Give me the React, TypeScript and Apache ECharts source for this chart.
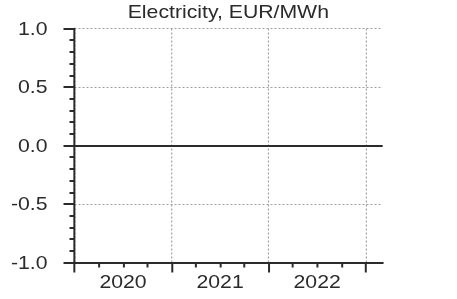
import React, { useEffect, useRef } from "react";
import * as echarts from "echarts";

const title = "Electricity, EUR/MWh";
const years = ["2020", "2021", "2022"];
const yearTicks = [0, 1, 2, 3];
const yearLabelPos = [0.5, 1.5, 2.5];
const xMax = 3.175;
const yMin = -1;
const yMax = 1;
const yStep = 0.5;
const zeroLine = [0];

const SX = 1.18; // horizontal stretch of the whole drawing
const X = (px: number) => px / SX;

export default function App() {
  const ref = useRef<HTMLDivElement>(null);
  useEffect(() => {
    document.body.style.margin = "0";
    const chart = echarts.init(ref.current!, undefined, { renderer: "svg" });
    const dark = "#2b2b2b";
    const grid = "#a0a0a0";
    const font = "Liberation Sans, Arial, sans-serif";
    chart.setOption({
      animation: false,
      title: {
        text: title,
        left: "center",
        top: -2,
        textStyle: { fontFamily: font, fontSize: 18, fontWeight: "normal", color: dark },
      },
      grid: { left: X(74.5), right: X(74), top: 28.5, bottom: 36.5, containLabel: false },
      xAxis: {
        type: "value",
        min: 0,
        max: xMax,
        interval: 1,
        axisLine: { show: true, onZero: false, lineStyle: { color: dark, width: 2 } },
        axisTick: { show: true, length: 10, lineStyle: { color: dark, width: 2 / SX }, customValues: yearTicks },
        minorTick: { show: true, splitNumber: 4, length: 5, lineStyle: { color: dark, width: 2 / SX } },
        splitLine: { show: true, lineStyle: { color: grid, type: [2, 2], width: 1.2 / SX } },
        axisLabel: {
          customValues: yearLabelPos,
          formatter: (v: number) => years[Math.floor(v)] ?? "",
          margin: 10,
          fontFamily: font,
          fontSize: 18,
          color: dark,
        },
      },
      yAxis: {
        type: "value",
        min: yMin,
        max: yMax,
        interval: yStep,
        axisLine: { show: true, lineStyle: { color: dark, width: 2 / SX } },
        axisTick: { show: true, length: X(11), lineStyle: { color: dark, width: 2 } },
        minorTick: { show: true, splitNumber: 5, length: X(5), lineStyle: { color: dark, width: 2 } },
        splitLine: { show: true, lineStyle: { color: grid, type: [X(2), X(2)], width: 1.2 } },
        axisLabel: {
          margin: X(27),
          formatter: (v: number) => v.toFixed(1),
          fontFamily: font,
          fontSize: 18,
          color: dark,
        },
      },
      series: [
        {
          type: "line",
          data: [],
          silent: true,
          markLine: {
            silent: true,
            symbol: "none",
            label: { show: false },
            lineStyle: { color: dark, width: 2, type: "solid" },
            data: zeroLine.map((v) => ({ yAxis: v })),
          },
        },
      ],
    });
    return () => chart.dispose();
  }, []);
  return (
    <div
      style={{
        position: "fixed",
        left: 0,
        top: 0,
        width: 457,
        height: 299,
        overflow: "hidden",
      }}
    >
      <div
        ref={ref}
        style={{
          width: 457 / SX,
          height: 299,
          transform: `scaleX(${SX})`,
          transformOrigin: "0 0",
        }}
      />
    </div>
  );
}
